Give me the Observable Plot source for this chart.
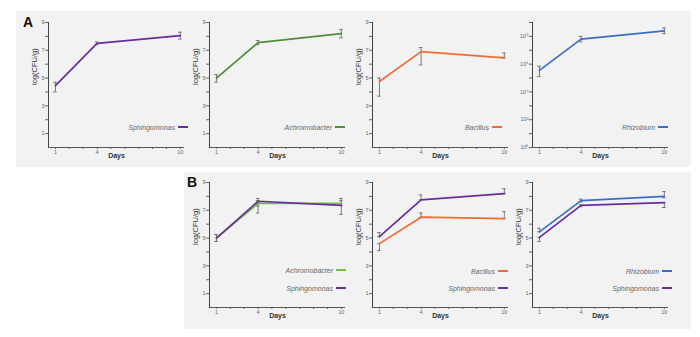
<!DOCTYPE html>
<html><head><meta charset="utf-8">
<script src="https://cdn.jsdelivr.net/npm/d3@7"></script>
<script src="https://cdn.jsdelivr.net/npm/@observablehq/plot@0.6"></script>
<style>
body{margin:0;background:#fff;font-family:"Liberation Sans",Arial,sans-serif;}
#c{position:relative;width:700px;height:337px;overflow:hidden;background:#fff;}
.bg{position:absolute;background:#f2f2f2;}
.pl{position:absolute;}
.lg{position:absolute;font-size:7px;font-style:italic;color:#666;white-space:nowrap;display:flex;align-items:center;height:8px;}
.lg i{display:inline-block;width:10px;height:2px;margin-left:3px;}
.tag{position:absolute;font-weight:bold;font-size:14px;color:#111;line-height:14px;}
</style></head><body><div id="c"></div><script>
// ---- data ----
const days = [1, 4, 10];
const xTickValues = [1, 2, 3, 4, 5, 6, 7, 8, 9, 10];
const xTickLabels = [1, 4, 10];
const yTickValues = [1, 2, 3, 4, 5, 6, 7, 8, 9];
const yTickLabels = [1, 3, 5, 7, 9];
const logTickExps = [0, 1, 2, 3, 4, 5, 6, 7, 8, 9];
const logLabelExps = [0, 2, 4, 6, 8];

// Panel A (log CFU/g)
const sphA_mean = [4.45, 7.5, 8.05], sphA_lo = [4.0, 7.4, 7.8], sphA_hi = [4.7, 7.6, 8.3];
const achA_mean = [5.0, 7.55, 8.2], achA_lo = [4.7, 7.4, 7.9], achA_hi = [5.25, 7.7, 8.5];
const bacA_mean = [4.75, 6.9, 6.45], bacA_lo = [3.7, 5.95, 6.45], bacA_hi = [5.0, 7.2, 6.8];
const rhiA_mean = [5.55, 7.8, 8.4], rhiA_lo = [5.1, 7.6, 8.2], rhiA_hi = [5.85, 8.0, 8.6];

// Panel B (log CFU/g)
const achB_mean = [5.0, 7.5, 7.5], achB_lo = [4.75, 7.3, 7.35], achB_hi = [5.25, 7.7, 7.7];
const sphB1_mean = [5.0, 7.65, 7.35], sphB1_lo = [4.75, 6.8, 6.7], sphB1_hi = [5.25, 7.85, 7.85];
const bacB_mean = [4.6, 6.5, 6.4], bacB_lo = [4.1, 6.5, 6.4], bacB_hi = [4.6, 6.8, 6.9];
const sphB2_mean = [5.1, 7.75, 8.2], sphB2_lo = [5.1, 7.75, 8.2], sphB2_hi = [5.4, 8.1, 8.55];
const rhiB_mean = [5.45, 7.7, 8.0], rhiB_lo = [5.45, 7.6, 7.9], rhiB_hi = [5.7, 7.8, 8.35];
const sphB3_mean = [5.05, 7.35, 7.55], sphB3_lo = [4.75, 7.25, 7.2], sphB3_hi = [5.05, 7.4, 7.55];

const C = {sph: "#6a2d9f", achDark: "#4f8f35", achLight: "#6cc13f", bac: "#f26a35", rhi: "#3b6dc7"};

// ---- layout helpers ----
const root = document.getElementById("c");
function box(cls, css, html) {
  const d = document.createElement("div");
  d.className = cls; Object.assign(d.style, css);
  if (html !== undefined) d.innerHTML = html;
  root.appendChild(d); return d;
}
box("bg", {left: "16px", top: "11px", width: "675px", height: "156px"});
box("bg", {left: "184px", top: "172px", width: "507px", height: "157px"});
box("tag", {left: "23px", top: "15px"}, "A");
box("tag", {left: "187px", top: "175px"}, "B");

const ML = 40, MR = 14, MT = 6, MB = 24, PW = 136, PH = 125;
const sup = "⁰¹²³⁴⁵⁶⁷⁸⁹";

function panel(axisX, axisTop, series, opt = {}) {
  const log = !!opt.log;
  const y0 = log ? 1 : 0;
  const toY = v => log ? Math.pow(10, v) : v;
  const marks = [];
  const all = series.map(s => ({s, rows: days.map((d, i) => ({day: d, v: toY(s.mean[i]), lo: toY(s.lo[i]), hi: toY(s.hi[i])}))}));
  for (const {rows} of all) {
    marks.push(Plot.ruleX(rows, {x: "day", y1: "lo", y2: "hi", stroke: "#7a7a7a", strokeWidth: 1}));
    marks.push(Plot.ruleY(rows, {y: "hi", x1: d => d.day - 0.13, x2: d => d.day + 0.13, stroke: "#7a7a7a", strokeWidth: 1}));
    marks.push(Plot.ruleY(rows, {y: "lo", x1: d => d.day - 0.13, x2: d => d.day + 0.13, stroke: "#7a7a7a", strokeWidth: 1}));
  }
  for (const {s, rows} of all) {
    marks.push(Plot.line(rows, {x: "day", y: "v", stroke: s.color, strokeWidth: 1.7}));
  }
  marks.push(Plot.ruleX([0.5], {stroke: "#444", strokeWidth: 1}));
  marks.push(Plot.ruleY([y0], {stroke: "#555", strokeWidth: 1.2}));
  marks.push(Plot.text(["Days"], {text: d => d, frameAnchor: "bottom", dy: 10, fontSize: 7, fontWeight: "bold", fill: "#333"}));
  if (!opt.noYLabel) marks.push(Plot.text(["log(CFU/g)"], {text: d => d, frameAnchor: "left", rotate: -90, dx: -14, fontSize: 7.5, fill: "#333"}));
  const yOpt = log
    ? {type: "log", domain: [1, 1e9], ticks: logTickExps.map(e => Math.pow(10, e)),
       tickFormat: d => { const e = Math.round(Math.log10(d)); return logLabelExps.includes(e) ? "10" + sup[e] : ""; },
       tickSize: 3, tickPadding: 1, label: null}
    : {domain: [0, 9], ticks: yTickValues, tickFormat: d => yTickLabels.includes(d) ? String(d) : "",
       tickSize: 3, tickPadding: 1, label: null};
  const p = Plot.plot({
    width: ML + PW + MR, height: MT + PH + MB,
    marginLeft: ML, marginRight: MR, marginTop: MT, marginBottom: MB,
    style: {background: "transparent", fontFamily: "Liberation Sans, Arial, sans-serif", fontSize: "5.5px", color: "#666", overflow: "visible"},
    x: {domain: [0.5, 10.3], ticks: xTickValues, tickFormat: d => xTickLabels.includes(d) ? String(d) : "",
        tickSize: 2, tickPadding: 1, label: null},
    y: yOpt,
    marks
  });
  const w = box("pl", {left: (axisX - ML) + "px", top: (axisTop - MT) + "px"});
  w.appendChild(p);
}

function legend(rightX, yC, name, color) {
  box("lg", {right: (700 - rightX) + "px", top: (yC - 4) + "px"}, name + `<i style="background:${color}"></i>`);
}

// Panel A
panel(48, 22, [{mean: sphA_mean, lo: sphA_lo, hi: sphA_hi, color: C.sph}]);
panel(209, 22, [{mean: achA_mean, lo: achA_lo, hi: achA_hi, color: C.achDark}]);
panel(372, 22, [{mean: bacA_mean, lo: bacA_lo, hi: bacA_hi, color: C.bac}]);
panel(532, 22, [{mean: rhiA_mean, lo: rhiA_lo, hi: rhiA_hi, color: C.rhi}], {log: true, noYLabel: true});
legend(188, 127, "Sphingomonas", C.sph);
legend(345, 127, "Achromobacter", C.achDark);
legend(502, 127, "Bacillus", C.bac);
legend(668, 127, "Rhizobium", C.rhi);

// Panel B
panel(209, 182, [{mean: achB_mean, lo: achB_lo, hi: achB_hi, color: C.achLight},
                 {mean: sphB1_mean, lo: sphB1_lo, hi: sphB1_hi, color: C.sph}]);
panel(372, 182, [{mean: bacB_mean, lo: bacB_lo, hi: bacB_hi, color: C.bac},
                 {mean: sphB2_mean, lo: sphB2_lo, hi: sphB2_hi, color: C.sph}]);
panel(532, 182, [{mean: rhiB_mean, lo: rhiB_lo, hi: rhiB_hi, color: C.rhi},
                 {mean: sphB3_mean, lo: sphB3_lo, hi: sphB3_hi, color: C.sph}]);
legend(346, 270, "Achromobacter", C.achLight);
legend(346, 288, "Sphingomonas", C.sph);
legend(508, 271, "Bacillus", C.bac);
legend(508, 288, "Sphingomonas", C.sph);
legend(672, 271, "Rhizobium", C.rhi);
legend(672, 288, "Sphingomonas", C.sph);
</script></body></html>
